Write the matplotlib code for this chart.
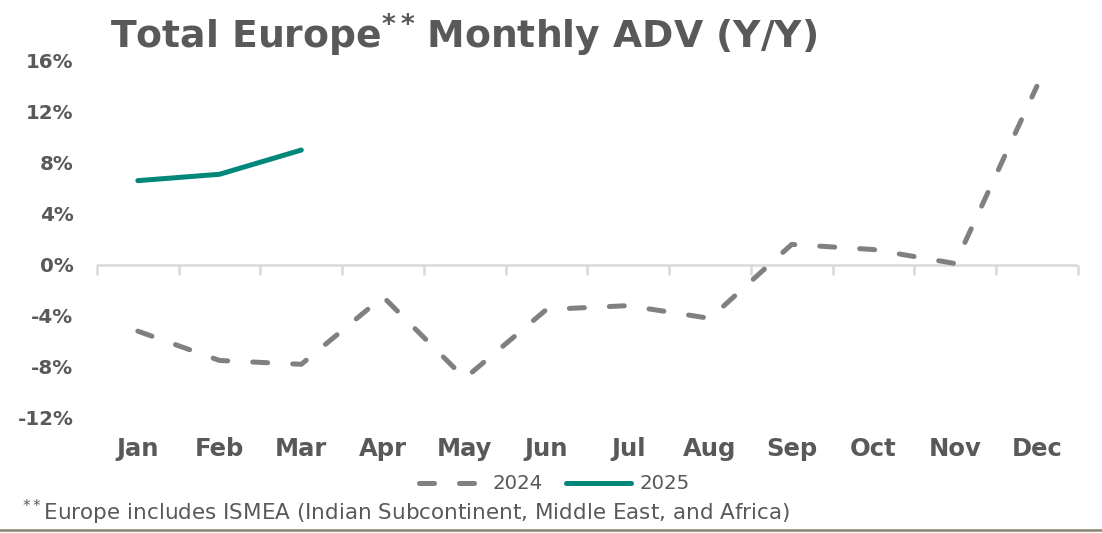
import matplotlib.pyplot as plt
from matplotlib.lines import Line2D

months = ["Jan", "Feb", "Mar", "Apr", "May", "Jun",
          "Jul", "Aug", "Sep", "Oct", "Nov", "Dec"]
adv_2024 = [-5.2, -7.5, -7.8, -2.5, -8.9, -3.5, -3.2, -4.2, 1.6, 1.2, 0.1, 14.0]
adv_2025 = [6.6, 7.1, 9.0]
y_ticks = [-12, -8, -4, 0, 4, 8, 12, 16]

text_color = "#595959"
gray = "#808080"
teal = "#00877A"

fig = plt.figure(figsize=(11.02, 5.33), dpi=100)
ax = fig.add_axes([0.088, 0.216, 0.89, 0.67])

x = list(range(len(months)))
ax.plot(x, adv_2024, color=gray, lw=3.6, dashes=(3, 5),
        dash_capstyle="round", solid_capstyle="round", label="2024")
ax.plot(x[:len(adv_2025)], adv_2025, color=teal, lw=3.6,
        solid_capstyle="round", label="2025")

ax.set_xlim(-0.5, len(months) - 0.5)
ax.set_ylim(-12, 16)
ax.set_yticks(y_ticks)
ax.set_yticklabels([f"{v}%" for v in y_ticks])
ax.set_xticks(x)
ax.set_xticklabels(months)

for s in ax.spines.values():
    s.set_visible(False)
ax.tick_params(axis="both", length=0, labelcolor=text_color)
ax.tick_params(axis="x", pad=14, labelsize=17.5)
ax.tick_params(axis="y", pad=17, labelsize=14.3)
for lbl in ax.get_xticklabels() + ax.get_yticklabels():
    lbl.set_fontweight("bold")

# zero line with category boundary ticks
ax.axhline(0, color="#d9d9d9", lw=1.8, zorder=0)
zero_ax = ax.secondary_xaxis(12 / 28)
zero_ax.spines["bottom"].set_visible(False)
zero_ax.set_xticks([i - 0.5 for i in range(len(months) + 1)])
zero_ax.set_xticklabels([])
zero_ax.tick_params(length=7, width=1.8, color="#d9d9d9", direction="out")

fig.text(0.1, 0.935, r"Total Europe$^{\mathbf{**}}\,$Monthly ADV (Y/Y)", fontsize=27.2,
         fontweight="bold", color=text_color, va="center")

handles = [Line2D([], [], color=gray, lw=3.6, dashes=(3, 5),
                  dash_capstyle="round"),
           Line2D([], [], color=teal, lw=3.6, solid_capstyle="round")]
fig.legend(handles, ["2024", "2025"], loc="center", bbox_to_anchor=(0.503, 0.092),
           ncol=2, frameon=False, fontsize=14.2, handlelength=3.3,
           handletextpad=0.4, columnspacing=1.2, labelcolor=text_color)

fig.text(0.02, 0.038, r"$^{**}$Europe includes ISMEA (Indian Subcontinent, Middle East, and Africa)",
         fontsize=15.5, color=text_color, va="center")

fig.add_artist(Line2D([0, 1], [0.005, 0.005], color="#8c8274", lw=1.8,
                      transform=fig.transFigure))

fig.savefig("out.png", dpi=100)
